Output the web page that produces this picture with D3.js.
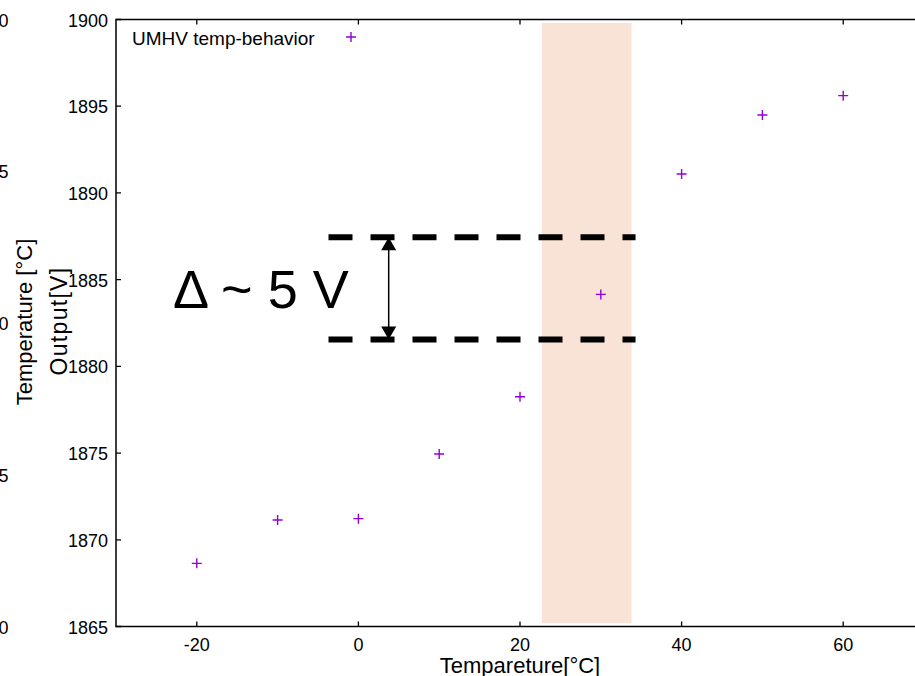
<!DOCTYPE html>
<html>
<head>
<meta charset="utf-8">
<script src="https://cdn.jsdelivr.net/npm/d3@7"></script>
<style>
	body { margin: 0; background: #fff; overflow: hidden; }
	svg { display: block; font-family: "Liberation Sans", Arial, sans-serif; }
</style>
</head>
<body>
<div class="chart"></div>
<script>
// measured values (UMHV output vs temperature)
var temps = [-20, -10, 0, 10, 20, 30, 40, 50, 60];
var outputs = [1868.64, 1871.14, 1871.22, 1874.95, 1878.25, 1884.15, 1891.09, 1894.49, 1895.61];
var xTicks = [-20, 0, 20, 40, 60];
var yTicks = [1865, 1870, 1875, 1880, 1885, 1890, 1895, 1900];
var tempTicks = [10, 15, 20, 25, 30]; // hidden axis of the chart behind, only last digit shows
var seriesName = "UMHV temp-behavior";

// annotations, in data units
var bandX = [22.7, 33.8];
var bandY = [1865.2, 1899.8];
var deltaLevels = [1881.55, 1887.45];
var deltaSpan = [-3.7, 34.3];
var arrowAt = 3.75;

var W = 915, H = 676;
var pLeft = 116, pTop = 19.5, pRight = 924, pBottom = 626.5;

var svg = d3.select(".chart").append("svg")
	.attr("width", W)
	.attr("height", H);

var x = d3.scaleLinear().domain([-30, 70]).range([pLeft, pRight]);
var y = d3.scaleLinear().domain([1865, 1900]).range([pBottom, pTop]);
var yT = d3.scaleLinear().domain([10, 30]).range([pBottom, pTop]);

// peach band
svg.append("rect")
	.attr("x", x(bandX[0]))
	.attr("y", y(bandY[1]))
	.attr("width", x(bandX[1]) - x(bandX[0]))
	.attr("height", y(bandY[0]) - y(bandY[1]))
	.style("fill", "#f9e3d6");

// frame
svg.append("rect")
	.attr("x", pLeft).attr("y", pTop)
	.attr("width", pRight - pLeft).attr("height", pBottom - pTop)
	.style("fill", "none")
	.style("stroke", "#000")
	.style("stroke-width", 1.5);

// inward ticks
svg.selectAll(".xt").data(xTicks).enter().append("path")
	.attr("d", function(d) { return "M" + x(d) + "," + pBottom + "v-5M" + x(d) + "," + pTop + "v5"; })
	.style("stroke", "#000").style("stroke-width", 1.3);
svg.selectAll(".yt").data(yTicks).enter().append("path")
	.attr("d", function(d) { return "M" + pLeft + "," + y(d) + "h5M" + pRight + "," + y(d) + "h-5"; })
	.style("stroke", "#000").style("stroke-width", 1.3);

// tick labels
svg.selectAll(".xl").data(xTicks).enter().append("text")
	.attr("x", function(d) { return x(d); })
	.attr("y", pBottom + 24)
	.attr("text-anchor", "middle")
	.style("font-size", "18px")
	.text(function(d) { return d; });
svg.selectAll(".yl").data(yTicks).enter().append("text")
	.attr("x", pLeft - 8)
	.attr("y", function(d) { return y(d) + 7; })
	.attr("text-anchor", "end")
	.style("font-size", "18px")
	.text(function(d) { return d; });
svg.selectAll(".tl").data(tempTicks).enter().append("text")
	.attr("x", 8.5)
	.attr("y", function(d) { return yT(d) + 7; })
	.attr("text-anchor", "end")
	.style("font-size", "18px")
	.text(function(d) { return d; });

// axis titles
svg.append("text")
	.attr("x", (pLeft + pRight) / 2)
	.attr("y", 673)
	.attr("text-anchor", "middle")
	.style("font-size", "22px")
	.text("Tempareture[°C]");
svg.append("text")
	.attr("transform", "translate(67,321) rotate(-90)")
	.attr("text-anchor", "middle")
	.style("font-size", "23px")
	.style("letter-spacing", "1.3px")
	.text("Output[V]");
svg.append("text")
	.attr("transform", "translate(32,322) rotate(-90)")
	.attr("text-anchor", "middle")
	.style("font-size", "22px")
	.text("Temperature [°C]");

// dashed delta lines
svg.selectAll(".dl").data(deltaLevels).enter().append("line")
	.attr("x1", x(deltaSpan[0])).attr("x2", x(deltaSpan[1]))
	.attr("y1", function(d) { return y(d); })
	.attr("y2", function(d) { return y(d); })
	.style("stroke", "#000")
	.style("stroke-width", 6)
	.style("stroke-dasharray", "24,18");

// double arrow
var ax = x(arrowAt), aTop = y(deltaLevels[1]), aBot = y(deltaLevels[0]);
svg.append("line")
	.attr("x1", ax).attr("x2", ax)
	.attr("y1", aTop + 10).attr("y2", aBot - 10)
	.style("stroke", "#000").style("stroke-width", 1.5);
svg.append("path")
	.attr("d", "M" + ax + "," + aTop + "l-7.5,13h15z")
	.style("fill", "#000");
svg.append("path")
	.attr("d", "M" + ax + "," + aBot + "l-7.5,-13h15z")
	.style("fill", "#000");

svg.append("text")
	.attr("x", 173)
	.attr("y", 308)
	.style("font-size", "54px")
	.text("Δ ~ 5 V");

// points
function plus(px, py) {
	return "M" + (px - 5) + "," + py + "h10M" + px + "," + (py - 5) + "v10";
}
svg.selectAll(".pt").data(temps).enter().append("path")
	.attr("d", function(d, i) { return plus(x(d), y(outputs[i])); })
	.style("stroke", "#9400d3")
	.style("stroke-width", 1.4)
	.style("fill", "none");

// key
svg.append("text")
	.attr("x", 132)
	.attr("y", 45)
	.style("font-size", "19px")
	.text(seriesName);
svg.append("path")
	.attr("d", plus(351, 37))
	.style("stroke", "#9400d3")
	.style("stroke-width", 1.4);
</script>
</body>
</html>
